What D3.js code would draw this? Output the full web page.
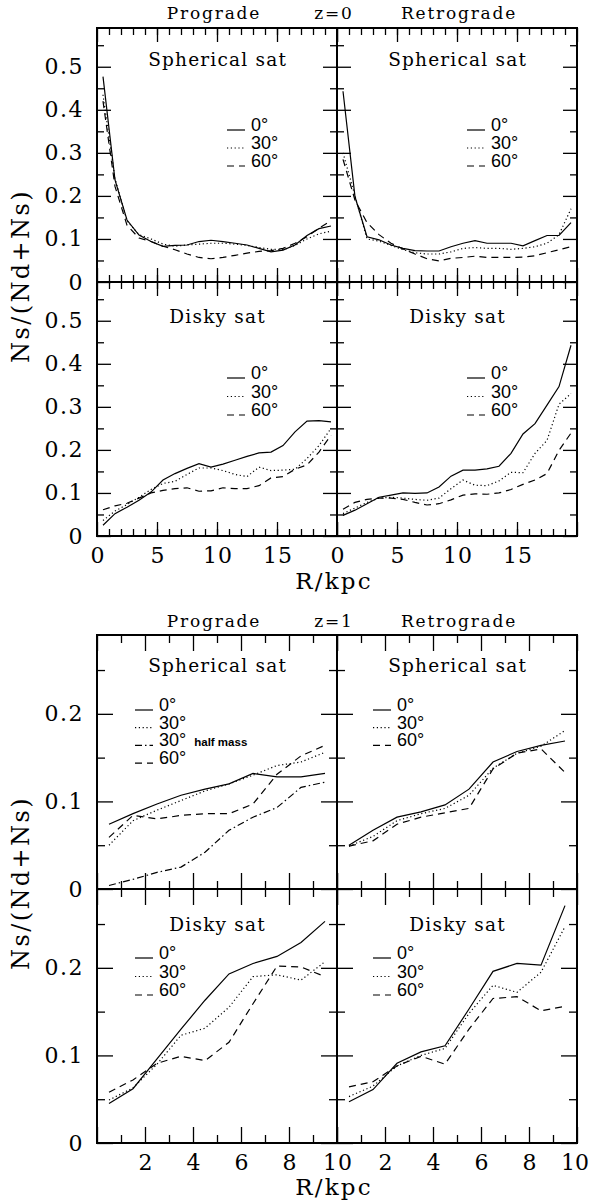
<!DOCTYPE html>
<html>
<head>
<meta charset="utf-8">
<script src="https://cdn.jsdelivr.net/npm/d3@7"></script>
<style>
  body { margin: 0; background: #fff; }
  svg { display: block; }
</style>
</head>
<body>
<svg id="chart"></svg>
<script>
// ---- data: z = 0 (radius bins in kpc) ----
const rZ0 = [0.5, 1.5, 2.5, 3.5, 4.5, 5.5, 6.5, 7.5, 8.5, 9.5, 10.5, 11.5, 12.5, 13.5, 14.5, 15.5, 16.5, 17.5, 18.5, 19.5];

// prograde, spherical satellite
const z0ProSph0  = [0.477, 0.237, 0.144, 0.109, 0.094, 0.083, 0.085, 0.086, 0.094, 0.097, 0.094, 0.090, 0.086, 0.078, 0.070, 0.074, 0.086, 0.108, 0.124, 0.130];
const z0ProSph30 = [0.435, 0.240, 0.142, 0.110, 0.100, 0.088, 0.083, 0.086, 0.088, 0.090, 0.090, 0.088, 0.085, 0.080, 0.076, 0.075, 0.085, 0.100, 0.112, 0.118];
const z0ProSph60 = [0.420, 0.222, 0.132, 0.102, 0.094, 0.083, 0.075, 0.065, 0.057, 0.054, 0.057, 0.062, 0.067, 0.071, 0.073, 0.078, 0.090, 0.105, 0.125, 0.142];
// retrograde, spherical satellite
const z0RetSph0  = [0.443, 0.198, 0.105, 0.098, 0.086, 0.078, 0.073, 0.072, 0.072, 0.082, 0.090, 0.096, 0.090, 0.090, 0.090, 0.084, 0.096, 0.108, 0.108, 0.138];
const z0RetSph30 = [0.300, 0.200, 0.100, 0.095, 0.085, 0.075, 0.068, 0.065, 0.065, 0.070, 0.078, 0.080, 0.078, 0.078, 0.076, 0.078, 0.082, 0.090, 0.110, 0.170];
const z0RetSph60 = [0.285, 0.190, 0.138, 0.110, 0.090, 0.077, 0.065, 0.054, 0.049, 0.055, 0.057, 0.060, 0.057, 0.057, 0.057, 0.058, 0.061, 0.068, 0.075, 0.082];
// prograde, disky satellite
const z0ProDisk0  = [0.025, 0.052, 0.067, 0.083, 0.102, 0.130, 0.145, 0.157, 0.168, 0.160, 0.167, 0.176, 0.185, 0.193, 0.195, 0.210, 0.242, 0.267, 0.268, 0.265];
const z0ProDisk30 = [0.036, 0.058, 0.073, 0.090, 0.108, 0.122, 0.127, 0.143, 0.158, 0.158, 0.152, 0.143, 0.138, 0.160, 0.152, 0.153, 0.155, 0.180, 0.210, 0.250];
const z0ProDisk60 = [0.061, 0.070, 0.076, 0.088, 0.100, 0.106, 0.110, 0.112, 0.104, 0.105, 0.112, 0.110, 0.110, 0.117, 0.135, 0.138, 0.155, 0.165, 0.195, 0.234];
// retrograde, disky satellite
const z0RetDisk0  = [0.048, 0.060, 0.075, 0.090, 0.095, 0.100, 0.099, 0.100, 0.114, 0.139, 0.153, 0.153, 0.156, 0.162, 0.192, 0.237, 0.261, 0.304, 0.347, 0.443];
const z0RetDisk30 = [0.052, 0.065, 0.078, 0.088, 0.090, 0.088, 0.085, 0.083, 0.088, 0.110, 0.130, 0.118, 0.117, 0.128, 0.148, 0.147, 0.192, 0.222, 0.306, 0.331];
const z0RetDisk60 = [0.062, 0.078, 0.085, 0.088, 0.088, 0.085, 0.078, 0.072, 0.075, 0.084, 0.095, 0.098, 0.097, 0.100, 0.108, 0.120, 0.130, 0.145, 0.199, 0.239];

// ---- data: z = 1 ----
const rZ1 = [0.5, 1.5, 2.5, 3.5, 4.5, 5.5, 6.5, 7.5, 8.5, 9.5];

const z1ProSph0    = [0.074, 0.086, 0.097, 0.107, 0.114, 0.120, 0.132, 0.128, 0.128, 0.132];
const z1ProSph30   = [0.050, 0.078, 0.090, 0.101, 0.112, 0.120, 0.130, 0.141, 0.145, 0.156];
const z1ProSph30hm = [0.004, 0.011, 0.019, 0.025, 0.042, 0.067, 0.082, 0.093, 0.116, 0.122];
const z1ProSph60   = [0.059, 0.084, 0.080, 0.084, 0.086, 0.086, 0.097, 0.131, 0.152, 0.164];

const z1RetSph0  = [0.050, 0.067, 0.082, 0.088, 0.096, 0.114, 0.145, 0.157, 0.164, 0.169];
const z1RetSph30 = [0.049, 0.060, 0.078, 0.086, 0.092, 0.107, 0.138, 0.155, 0.163, 0.181];
const z1RetSph60 = [0.049, 0.055, 0.074, 0.082, 0.087, 0.092, 0.137, 0.155, 0.160, 0.133];

const z1ProDisk0  = [0.045, 0.062, 0.096, 0.130, 0.163, 0.193, 0.205, 0.213, 0.229, 0.253];
const z1ProDisk30 = [0.049, 0.063, 0.090, 0.123, 0.131, 0.155, 0.190, 0.192, 0.186, 0.207];
const z1ProDisk60 = [0.058, 0.072, 0.091, 0.099, 0.094, 0.115, 0.159, 0.202, 0.201, 0.190];

const z1RetDisk0  = [0.047, 0.061, 0.091, 0.104, 0.111, 0.153, 0.196, 0.205, 0.203, 0.271];
const z1RetDisk30 = [0.053, 0.065, 0.088, 0.100, 0.108, 0.148, 0.180, 0.172, 0.195, 0.247];
const z1RetDisk60 = [0.064, 0.070, 0.088, 0.099, 0.090, 0.130, 0.165, 0.167, 0.151, 0.156];

// ---- tick labels ----
const z0XLabels = [0, 5, 10, 15];
const z0YLabels = ["0", "0.1", "0.2", "0.3", "0.4", "0.5"];
const z1XLabels = [2, 4, 6, 8, 10];
const z1YLabels = ["0", "0.1", "0.2"];

const width = 590, height = 1200;
const svg = d3.select("#chart").attr("width", width).attr("height", height);

const serif = "'DejaVu Serif', serif";
const sans = "'Liberation Sans', Arial, sans-serif";
const dashes = { solid: null, dotted: "1.2,2.6", dashed: "7,5", dashdot: "7,3,1.5,3" };

const panelW = 240, panelH = 254;
const colX = [97, 337];

function drawAxes(g, x, y, fig, showX, showY, col) {
  const fmtNone = () => "";
  const yMaj = fig.yMajor, yMin = fig.yMinor;
  const xMaj = fig.xMajor, xMin = fig.xMinor;
  const clean = a => a.select(".domain").remove();

  // minor + major ticks on all four sides, pointing inward
  [[xMin, fig.minLen], [xMaj, fig.majLen]].forEach(([vals, len]) => {
    g.append("g").attr("transform", `translate(0,${panelH})`)
      .call(d3.axisBottom(x).tickValues(vals).tickSize(-len).tickSizeOuter(0).tickFormat(fmtNone)).call(clean);
    g.append("g")
      .call(d3.axisTop(x).tickValues(vals).tickSize(-len).tickSizeOuter(0).tickFormat(fmtNone)).call(clean);
  });
  [[yMin, fig.minLen], [yMaj, fig.majLen]].forEach(([vals, len]) => {
    g.append("g")
      .call(d3.axisLeft(y).tickValues(vals).tickSize(-len).tickSizeOuter(0).tickFormat(fmtNone)).call(clean);
    g.append("g").attr("transform", `translate(${panelW},0)`)
      .call(d3.axisRight(y).tickValues(vals).tickSize(-len).tickSizeOuter(0).tickFormat(fmtNone)).call(clean);
  });
  g.selectAll(".tick line").attr("stroke", "#000").attr("stroke-width", 1.3);

  if (showY) {
    const ly = g.append("g")
      .call(d3.axisLeft(y).tickValues(yMaj.slice(0, fig.yLabels.length)).tickSize(0).tickPadding(13)
        .tickFormat((d, i) => fig.yLabels[i]));
    ly.call(clean);
    ly.attr("font-family", serif).attr("font-size", 22);
    ly.selectAll("text").attr("fill", "#000").attr("letter-spacing", 1.5);
  }
  if (showX) {
    const lx = g.append("g").attr("transform", `translate(0,${panelH})`)
      .call(d3.axisBottom(x).tickValues(fig.xLabels).tickSize(0).tickPadding(11));
    lx.call(clean);
    lx.attr("font-family", serif).attr("font-size", 22);
    lx.selectAll("text").attr("fill", "#000").attr("letter-spacing", 1.2).attr("dx", 0.6);
    // keep the label at the right page edge inside the picture
    if (col === 1) {
      lx.selectAll(".tick").filter(d => x(d) >= panelW - 1).select("text")
        .attr("letter-spacing", 0).attr("dx", -2.5);
    }
  }

  g.append("rect").attr("width", panelW).attr("height", panelH)
    .attr("fill", "none").attr("stroke", "#000").attr("stroke-width", 2);
}

function drawPanel(fig, col, row, p) {
  const left = colX[col], top = fig.top + row * panelH;
  const g = svg.append("g").attr("transform", `translate(${left},${top})`);
  const x = d3.scaleLinear().domain(fig.xDomain).range([0, panelW]);
  const y = d3.scaleLinear().domain(fig.yDomain).range([panelH, 0]);

  drawAxes(g, x, y, fig, row === 1, col === 0, col);

  const line = d3.line().x(d => x(d[0])).y(d => y(d[1]));
  p.series.forEach(s => {
    g.append("path")
      .datum(fig.r.map((r, i) => [r, s.values[i]]))
      .attr("d", line)
      .attr("fill", "none")
      .attr("stroke", "#000")
      .attr("stroke-width", 1.2)
      .attr("stroke-dasharray", dashes[s.style]);
  });

  // panel label
  g.append("text")
    .attr("x", panelW / 2 + 0.6).attr("y", p.labelY)
    .attr("text-anchor", "middle")
    .attr("font-family", serif).attr("font-size", 18.5).attr("letter-spacing", 1.2)
    .text(p.label);

  // legend
  p.series.forEach((s, i) => {
    const by = p.legY + i * p.legStep;
    g.append("line")
      .attr("x1", p.legX).attr("x2", p.legX + 18)
      .attr("y1", by - 1).attr("y2", by - 1)
      .attr("stroke", "#000").attr("stroke-width", 1.2)
      .attr("stroke-dasharray", dashes[s.style]);
    const t = g.append("text")
      .attr("x", p.legX + 24).attr("y", by)
      .attr("font-family", sans).attr("font-size", 18)
      .text(s.name);
    if (s.note) {
      t.append("tspan").attr("font-size", 11.5).attr("font-weight", "bold")
        .attr("dx", 8).text(s.note);
    }
  });
}

function drawFigure(fig, panels) {
  // column titles
  const ty = fig.titleY;
  [["Prograde", 214], [fig.zLabel, 334], ["Retrograde", 459]].forEach(([t, xx]) => {
    svg.append("text").attr("x", xx).attr("y", ty).attr("text-anchor", "middle")
      .attr("font-family", serif).attr("font-size", 17).attr("letter-spacing", 1.8)
      .text(t);
  });
  panels.forEach(p => drawPanel(fig, p.col, p.row, p));

  // axis titles
  const midY = fig.top + panelH - 6;
  svg.append("text")
    .attr("transform", `translate(29,${midY}) rotate(-90)`)
    .attr("text-anchor", "middle")
    .attr("font-family", serif).attr("font-size", 24).attr("letter-spacing", 2.4)
    .text("Ns/(Nd+Ns)");
  svg.append("text")
    .attr("x", 334).attr("y", fig.xTitleY).attr("text-anchor", "middle")
    .attr("font-family", serif).attr("font-size", 23).attr("letter-spacing", 2.2)
    .text("R/kpc");
}

// ---- figure z = 0 ----
const figZ0 = {
  top: 28, titleY: 19, xTitleY: 589, zLabel: "z=0", r: rZ0,
  xDomain: [0, 20], yDomain: [0, 0.59],
  xMajor: [0, 5, 10, 15, 20], xMinor: d3.range(1, 20),
  yMajor: [0, 0.1, 0.2, 0.3, 0.4, 0.5], yMinor: [0.05, 0.15, 0.25, 0.35, 0.45, 0.55],
  xLabels: z0XLabels, yLabels: z0YLabels, majLen: 14, minLen: 7
};
const sph = (a, b, c) => [
  { name: "0°", style: "solid", values: a },
  { name: "30°", style: "dotted", values: b },
  { name: "60°", style: "dashed", values: c }
];
drawFigure(figZ0, [
  { col: 0, row: 0, label: "Spherical sat", labelY: 38, legX: 130, legY: 103, legStep: 18, series: sph(z0ProSph0, z0ProSph30, z0ProSph60) },
  { col: 1, row: 0, label: "Spherical sat", labelY: 38, legX: 130, legY: 103, legStep: 18, series: sph(z0RetSph0, z0RetSph30, z0RetSph60) },
  { col: 0, row: 1, label: "Disky sat", labelY: 41, legX: 130, legY: 97, legStep: 18.5, series: sph(z0ProDisk0, z0ProDisk30, z0ProDisk60) },
  { col: 1, row: 1, label: "Disky sat", labelY: 41, legX: 130, legY: 97, legStep: 18.5, series: sph(z0RetDisk0, z0RetDisk30, z0RetDisk60) }
]);

// ---- figure z = 1 ----
const figZ1 = {
  top: 635, titleY: 627, xTitleY: 1195, zLabel: "z=1", r: rZ1,
  xDomain: [0, 10], yDomain: [0, 0.29],
  xMajor: [0, 2, 4, 6, 8, 10], xMinor: [1, 3, 5, 7, 9],
  yMajor: [0, 0.1, 0.2], yMinor: [0.05, 0.15, 0.25],
  xLabels: z1XLabels, yLabels: z1YLabels, majLen: 16, minLen: 8
};
drawFigure(figZ1, [
  { col: 0, row: 0, label: "Spherical sat", labelY: 37, legX: 38, legY: 76, legStep: 17.7, series: [
    { name: "0°", style: "solid", values: z1ProSph0 },
    { name: "30°", style: "dotted", values: z1ProSph30 },
    { name: "30°", note: "half mass", style: "dashdot", values: z1ProSph30hm },
    { name: "60°", style: "dashed", values: z1ProSph60 }
  ] },
  { col: 1, row: 0, label: "Spherical sat", labelY: 37, legX: 36, legY: 76, legStep: 17.7, series: sph(z1RetSph0, z1RetSph30, z1RetSph60) },
  { col: 0, row: 1, label: "Disky sat", labelY: 42, legX: 38, legY: 70, legStep: 18.5, series: sph(z1ProDisk0, z1ProDisk30, z1ProDisk60) },
  { col: 1, row: 1, label: "Disky sat", labelY: 42, legX: 36, legY: 70, legStep: 18.5, series: sph(z1RetDisk0, z1RetDisk30, z1RetDisk60) }
]);
</script>
</body>
</html>
